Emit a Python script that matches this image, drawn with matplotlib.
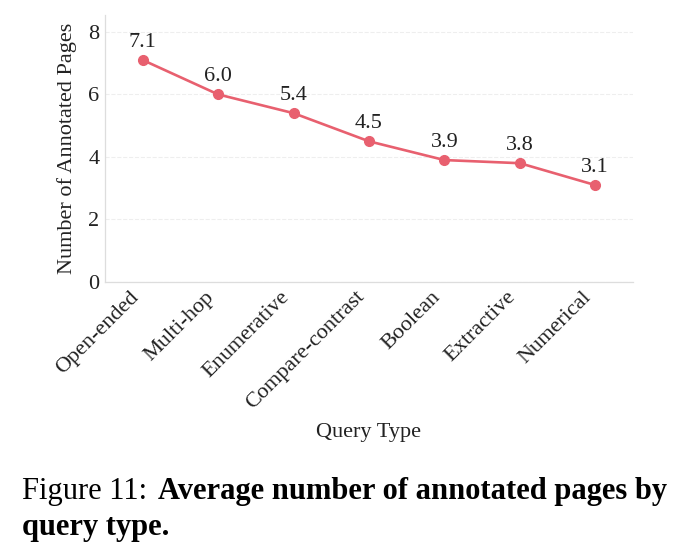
import matplotlib
matplotlib.use("Agg")
import matplotlib.pyplot as plt

categories = ["Open-ended", "Multi-hop", "Enumerative", "Compare-contrast",
              "Boolean", "Extractive", "Numerical"]
values = [7.1, 6.0, 5.4, 4.5, 3.9, 3.8, 3.1]
yticks = [0, 2, 4, 6, 8]

plt.rcParams['font.family'] = ['Liberation Serif', 'DejaVu Serif']

fig = plt.figure(figsize=(6.87, 5.59), dpi=100)
ax = fig.add_axes([105/687, 1-282/559, (633-105)/687, (282-15)/559])

color = '#e8606f'
x = list(range(len(categories)))
ax.plot(x, values, color=color, lw=1.9, marker='o', markersize=7, zorder=3)
for xi, v in zip(x, values):
    ax.annotate(f"{v:.1f}", (xi, v), xytext=(0, 6), textcoords='offset points',
                ha='center', va='bottom', fontsize=16, color='#222222')

ax.set_xlim(-0.5, len(categories) - 0.5)
ax.set_ylim(0, 8.54)
ax.set_yticks(yticks)
ax.set_yticklabels([str(t) for t in yticks], fontsize=16, color='#222222')
ax.set_xticks(x)
ax.set_xticklabels(categories, rotation=45, ha='right',
                   fontsize=16, color='#222222')
ax.tick_params(length=0)
ax.tick_params(axis='y', pad=4)
ax.tick_params(axis='x', pad=4)
ax.yaxis.grid(True, linestyle='--', color='#eeeeee', lw=0.8)
ax.set_axisbelow(True)
for s in ['top', 'right']:
    ax.spines[s].set_visible(False)
for s in ['left', 'bottom']:
    ax.spines[s].set_color('#dddddd')
    ax.spines[s].set_linewidth(0.9)

ax.set_ylabel("Number of Annotated Pages", fontsize=16, color='#222222', labelpad=8)
fig.text(368/687, 1-432/559, "Query Type", ha='center', va='center',
         fontsize=16, color='#222222')

# caption
t1 = fig.text(22/687, 1-492/559, "Figure 11:", ha='left', va='center',
              fontsize=22, color='black')
fig.canvas.draw()
r = fig.canvas.get_renderer()
bb = t1.get_window_extent(r)
fig.text((bb.x1 + 11)/687, 1-492/559, "Average number of annotated pages by",
         ha='left', va='center', fontsize=22, fontweight='bold', color='black')
fig.text(22/687, 1-527/559, "query type.", ha='left', va='center',
         fontsize=22, fontweight='bold', color='black')

fig.savefig("out.png", dpi=100)
